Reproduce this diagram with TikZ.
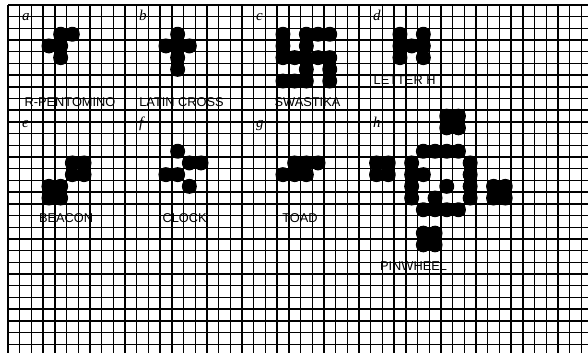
\documentclass[tikz,border=0pt]{standalone}
\usepackage{fontspec}
\setmainfont{Liberation Sans}
\newfontfamily\tagfont{Liberation Serif}
\usepackage{tikz}
\usetikzlibrary{positioning}

\begin{document}
\begin{tikzpicture}[x=11.7pt, y=-11.7pt,
  gridline/.style={line width=1.4pt, black},
  heavyline/.style={line width=2pt, black},
  live/.style={fill=black},
  tag/.style={font=\tagfont\itshape\fontsize{15}{15}\selectfont, inner sep=0pt, anchor=base west},
  title/.style={font=\fontsize{12.8}{12.8}\selectfont, inner sep=0pt}
]
\useasboundingbox[fill=white] (-0.684,-0.427) rectangle (49.573,29.744);

% graph paper
\foreach \c in {0,...,49} \draw[gridline] (\c,0) -- (\c,29.744);
\foreach \r in {0,...,29} \draw[gridline] (0,\r) -- (49.573,\r);
\foreach \c in {0,10,20,30} \draw[heavyline] (\c,0) -- (\c,29.744);
\foreach \r in {0,9,20} \draw[heavyline] (0,\r) -- (49.573,\r);

% live cells (column,row)
\foreach \c/\r in {4/2,5/2,3/3,4/3,4/4,
    14/2,13/3,14/3,15/3,14/4,14/5,
    23/2,25/2,26/2,27/2,23/3,25/3,23/4,24/4,25/4,26/4,27/4,25/5,27/5,23/6,24/6,25/6,27/6,
    33/2,35/2,33/3,34/3,35/3,33/4,35/4,
    5/13,6/13,5/14,6/14,3/15,4/15,3/16,4/16,
    14/12,15/13,16/13,13/14,14/14,15/15,
    24/13,25/13,26/13,23/14,24/14,25/14,
    37/9,38/9,37/10,38/10,35/12,36/12,37/12,38/12,
    31/13,32/13,34/13,39/13,31/14,32/14,34/14,35/14,39/14,
    34/15,37/15,39/15,41/15,42/15,34/16,36/16,39/16,41/16,42/16,
    35/17,36/17,37/17,38/17,35/19,36/19,35/20,36/20}
  \fill[live] (\c+0.5,\r+0.5) circle[radius=0.64];

% panel letters
\node[tag] (tag-a) at (1.2,1.35) {a};
\node[tag] (tag-b) at (11.2,1.35) {b};
\node[tag] (tag-c) at (21.2,1.35) {c};
\node[tag] (tag-d) at (31.2,1.35) {d};
\node[tag] (tag-e) at (1.2,10.5) {e};
\node[tag] (tag-f) at (11.2,10.5) {f};
\node[tag] (tag-g) at (21.2,10.5) {g};
\node[tag] (tag-h) at (31.2,10.5) {h};

% pattern names
\node[title] (rpent) at (5.3,8.3) {R-PENTOMINO};
\node[title] (cross) at (14.83,8.3) {LATIN CROSS};
\node[title] (swast) at (25.6,8.3) {SWASTIKA};
\node[title] (lettH) at (33.9,6.4) {LETTER H};
\node[title] (beacon) at (4.96,18.2) {BEACON};
\node[title] (clock) at (15.1,18.2) {CLOCK};
\node[title] (toad) at (24.96,18.2) {TOAD};
\node[title] (pinw) at (34.66,22.3) {PINWHEEL};
\end{tikzpicture}
\end{document}
